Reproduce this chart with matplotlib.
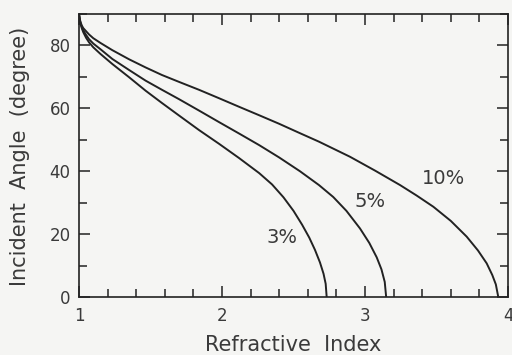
import numpy as np
import matplotlib
matplotlib.use('Agg')
import matplotlib.pyplot as plt
from matplotlib.ticker import MultipleLocator

# values (refractive index, incident angle in degree)
n_3 = [1.0, 1.004, 1.01, 1.02, 1.03, 1.05, 1.07, 1.1, 1.15, 1.233, 1.35, 1.466, 1.58, 1.70,
       1.839, 1.98, 2.119, 2.26, 2.35, 2.43, 2.50, 2.56, 2.61, 2.65, 2.685, 2.71, 2.725, 2.732]
a_3 = [90, 88.6, 87.0, 85.4, 84.2, 82.4, 81.0, 79.4, 77.3, 74.1, 69.9, 65.6, 61.7, 57.7,
       53.1, 48.7, 44.2, 39.4, 35.8, 31.7, 27.4, 23.0, 18.9, 15.0, 11.0, 7.4, 4.2, 0]

n_5 = [1.0, 1.004, 1.01, 1.02, 1.03, 1.05, 1.07, 1.1, 1.15, 1.233, 1.35, 1.466, 1.58, 1.70,
       1.839, 1.98, 2.119, 2.26, 2.399, 2.545, 2.678, 2.778, 2.87, 2.965, 3.03, 3.082,
       3.115, 3.138, 3.148]
a_5 = [90, 88.7, 87.2, 85.8, 84.8, 83.3, 82.0, 80.6, 78.8, 75.7, 72.2, 68.8, 65.9, 62.9,
       59.3, 55.6, 52.0, 48.3, 44.4, 40.0, 35.6, 31.8, 27.4, 21.8, 17.2, 12.6,
       8.8, 4.8, 0]

n_10 = [1.0, 1.004, 1.01, 1.02, 1.03, 1.05, 1.07, 1.1, 1.15, 1.233, 1.35, 1.466, 1.58, 1.70,
        1.839, 1.98, 2.119, 2.26, 2.399, 2.545, 2.678, 2.895, 3.07, 3.245, 3.36, 3.478,
        3.60, 3.711, 3.79, 3.851, 3.89, 3.915, 3.932]
a_10 = [90, 88.8, 87.5, 86.3, 85.5, 84.5, 83.5, 82.3, 80.8, 78.5, 75.6, 73.0, 70.6, 68.4,
        65.9, 63.2, 60.5, 57.8, 55.1, 52.1, 49.4, 44.6, 40.2, 35.6, 32.3, 28.7,
        24.2, 19.2, 14.8, 10.7, 7.0, 4.0, 0]

curves = [(n_3, a_3), (n_5, a_5), (n_10, a_10)]
labels = ['3%', '5%', '10%']
label_pos = [(2.42, 18.8), (3.035, 30.3), (3.548, 37.7)]

plt.rcParams['font.family'] = ['DejaVu Sans']
ink = '#222222'
txt_col = '#3a3a3a'
bg = '#f5f5f3'

fig = plt.figure(figsize=(5.12, 3.55), dpi=100)
fig.patch.set_facecolor(bg)
ax = fig.add_axes([79 / 512, 1 - 297 / 355, 429 / 512, 283 / 355])
ax.set_facecolor(bg)

for n, a in curves:
    ax.plot(n, a, color=ink, lw=1.4, solid_joinstyle='round')

for txt, (x, y) in zip(labels, label_pos):
    ax.text(x, y, txt, fontsize=14, color=txt_col, ha='center', va='center')

ax.set_xlim(1, 4)
ax.set_ylim(0, 90)
ax.xaxis.set_major_locator(MultipleLocator(1))
ax.xaxis.set_minor_locator(MultipleLocator(0.2))
ax.yaxis.set_major_locator(MultipleLocator(20))
ax.yaxis.set_minor_locator(MultipleLocator(10))
ax.tick_params(which='both', direction='in', top=True, right=True,
               color=ink, labelcolor=txt_col, labelsize=12, width=1.1)
ax.tick_params(which='major', length=8)
ax.tick_params(which='minor', length=6)
ax.tick_params(axis='x', pad=7)
ax.tick_params(axis='y', pad=6)
for s in ax.spines.values():
    s.set_color(ink)
    s.set_linewidth(1.2)

fig.text(293.5 / 512, 1 - 345 / 355, 'Refractive  Index', fontsize=15, color=txt_col,
         ha='center', va='center')
fig.text(20 / 512, 1 - 156 / 355, 'Incident  Angle  (degree)', fontsize=15, color=txt_col,
         ha='center', va='center', rotation=90)

fig.savefig('out.png', dpi=100, facecolor=fig.get_facecolor())
